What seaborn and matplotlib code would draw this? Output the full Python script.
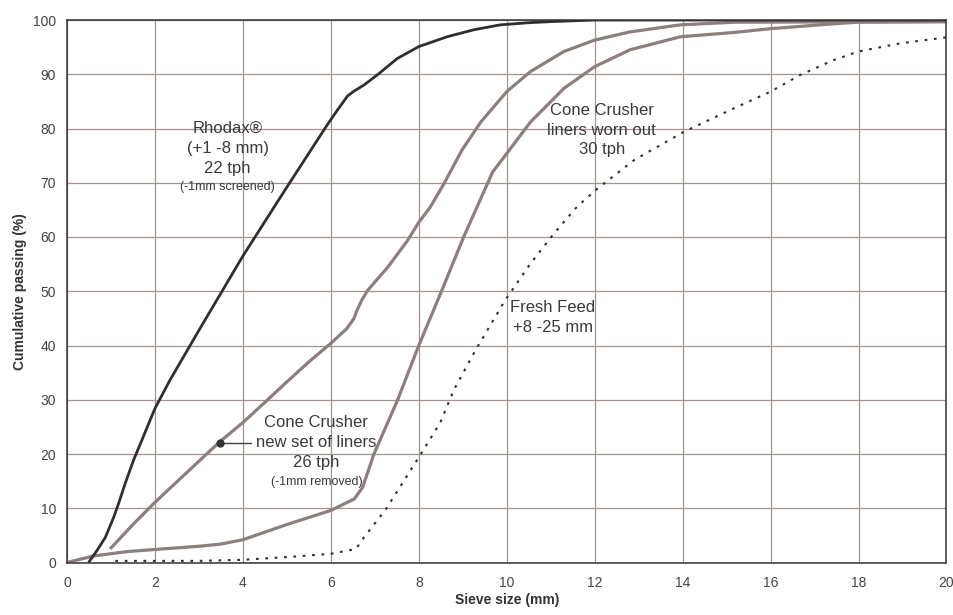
import numpy as np
import pandas as pd
import seaborn as sns
import matplotlib.pyplot as plt

# Sieve curves (x = sieve size in mm, y = cumulative passing %)
rhodax_x = [0.49, 0.68, 0.87, 1.06, 1.17, 1.32, 1.51, 1.70, 2.0, 2.34, 3.0, 4.0, 5.0, 5.92, 6.15,
            6.38, 6.53, 6.75, 7.06, 7.51, 8.0, 8.64, 9.25, 9.85, 10.5, 11.0, 12.0, 20.0]
rhodax_y = [0.0, 2.2, 4.6, 8.3, 10.8, 14.5, 18.8, 22.5, 28.4, 33.6, 42.8, 56.5, 69.2, 80.7, 83.4,
            86.0, 86.9, 88.0, 89.9, 92.9, 95.1, 96.9, 98.2, 99.1, 99.5, 99.7, 100.0, 100.0]

cone_new_x = [0.98, 1.5, 2.0, 3.03, 3.48, 4.0, 4.55, 5.0, 5.53, 6.0, 6.36, 6.52, 6.59, 6.7, 6.83,
              7.3, 7.74, 8.0, 8.26, 8.57, 8.98, 9.41, 10.0, 10.54, 11.3, 12.0, 12.8, 13.94, 15.2, 20.0]
cone_new_y = [2.5, 7.0, 11.1, 18.9, 22.3, 25.8, 29.9, 33.3, 37.2, 40.4, 43.1, 44.9, 46.4, 48.3, 50.1,
              54.5, 59.3, 62.7, 65.5, 69.8, 76.0, 81.2, 86.8, 90.5, 94.2, 96.3, 97.8, 99.1, 99.6, 99.7]

cone_worn_x = [0.0, 0.6, 1.36, 2.0, 3.02, 3.5, 4.0, 5.0, 6.0, 6.53, 6.72, 6.98, 7.51, 8.0, 8.49, 9.02,
               9.68, 10.0, 10.54, 11.3, 12.0, 12.8, 13.94, 15.16, 16.0, 17.43, 18.0, 20.0]
cone_worn_y = [0.0, 1.2, 2.0, 2.4, 3.0, 3.4, 4.2, 7.0, 9.6, 11.7, 13.8, 20.0, 29.8, 40.0, 49.5, 60.0,
               72.0, 75.4, 81.2, 87.4, 91.4, 94.5, 96.9, 97.7, 98.4, 99.3, 99.6, 99.7]

fresh_x = [1.1, 2.0, 3.0, 4.0, 5.0, 6.0, 6.57, 6.75, 7.25, 8.0, 8.49, 8.79, 9.28, 9.96, 10.53, 11.07,
           11.6, 12.06, 12.9, 14.03, 15.16, 16.0, 16.68, 17.43, 18.0, 18.95, 20.0]
fresh_y = [0.3, 0.3, 0.3, 0.5, 1.0, 1.6, 2.5, 4.6, 9.8, 19.4, 25.8, 31.7, 39.0, 48.3, 55.0, 60.6,
           65.6, 68.9, 74.2, 79.4, 83.7, 86.8, 89.9, 92.6, 94.2, 95.7, 96.8]

x_ticks = [0, 2, 4, 6, 8, 10, 12, 14, 16, 18, 20]
y_ticks = [0, 10, 20, 30, 40, 50, 60, 70, 80, 90, 100]

sns.set_style("white")
plt.rcParams["font.family"] = ["Liberation Sans", "DejaVu Sans"]

grid_col = "#a4928f"
grey_col = "#8c7f7d"
dark_col = "#2f2f2f"
text_col = "#3a3a3a"
smooth = dict(solid_joinstyle="round", solid_capstyle="butt")

fig = plt.figure(figsize=(9.54, 6.15), dpi=100)
ax = fig.add_axes([67 / 954, 52.5 / 615, 879.5 / 954, 542.5 / 615])

sns.lineplot(x=cone_worn_x, y=cone_worn_y, ax=ax, color=grey_col, lw=2.3,
             estimator=None, sort=False, **smooth)
sns.lineplot(x=cone_new_x, y=cone_new_y, ax=ax, color=grey_col, lw=2.3,
             estimator=None, sort=False, **smooth)
sns.lineplot(x=fresh_x, y=fresh_y, ax=ax, color=dark_col, lw=1.5,
             linestyle=(0, (1.3, 3.2)), estimator=None, sort=False)
sns.lineplot(x=rhodax_x, y=rhodax_y, ax=ax, color=dark_col, lw=2.0,
             estimator=None, sort=False, **smooth)

ax.set_xlim(0, 20)
ax.set_ylim(0, 100)
ax.set_xticks(x_ticks)
ax.set_yticks(y_ticks)
ax.grid(True, color=grid_col, lw=0.9)
ax.set_axisbelow(True)
for sp in ax.spines.values():
    sp.set_visible(True)
    sp.set_color("#333333")
    sp.set_linewidth(1.1)

ax.tick_params(axis="x", direction="in", length=4, width=1, color="#333333",
               labelsize=10, labelcolor="#444444", pad=10)
ax.tick_params(axis="y", direction="out", length=3, width=1, color="#333333",
               labelsize=10, labelcolor="#444444", pad=5)

ax.set_xlabel("Sieve size (mm)", fontsize=10, fontweight="bold", color="#333333", labelpad=2)
ax.set_ylabel("Cumulative passing (%)", fontsize=10, fontweight="bold", color="#333333", labelpad=4)

# annotations
ax.text(3.65, 76.3, "Rhodax®\n(+1 -8 mm)\n22 tph", ha="center", va="center",
        fontsize=12, color=text_col, linespacing=1.4)
ax.text(3.65, 69.3, "(-1mm screened)", ha="center", va="center", fontsize=9, color=text_col)

ax.text(5.67, 22.1, "Cone Crusher\nnew set of liners\n26 tph", ha="center", va="center",
        fontsize=12, color=text_col, linespacing=1.4)
ax.text(5.67, 14.9, "(-1mm removed)", ha="center", va="center", fontsize=9, color=text_col)
ax.plot([3.47, 4.18], [22.1, 22.1], color="#444444", lw=1)
ax.plot([3.47], [22.1], "o", color="#333333", ms=5)

ax.text(12.16, 79.7, "Cone Crusher\nliners worn out\n30 tph", ha="center", va="center",
        fontsize=12, color=text_col, linespacing=1.4)

ax.text(11.05, 45.2, "Fresh Feed\n+8 -25 mm", ha="center", va="center",
        fontsize=12, color=text_col, linespacing=1.4)

fig.savefig("out.png", dpi=100)
